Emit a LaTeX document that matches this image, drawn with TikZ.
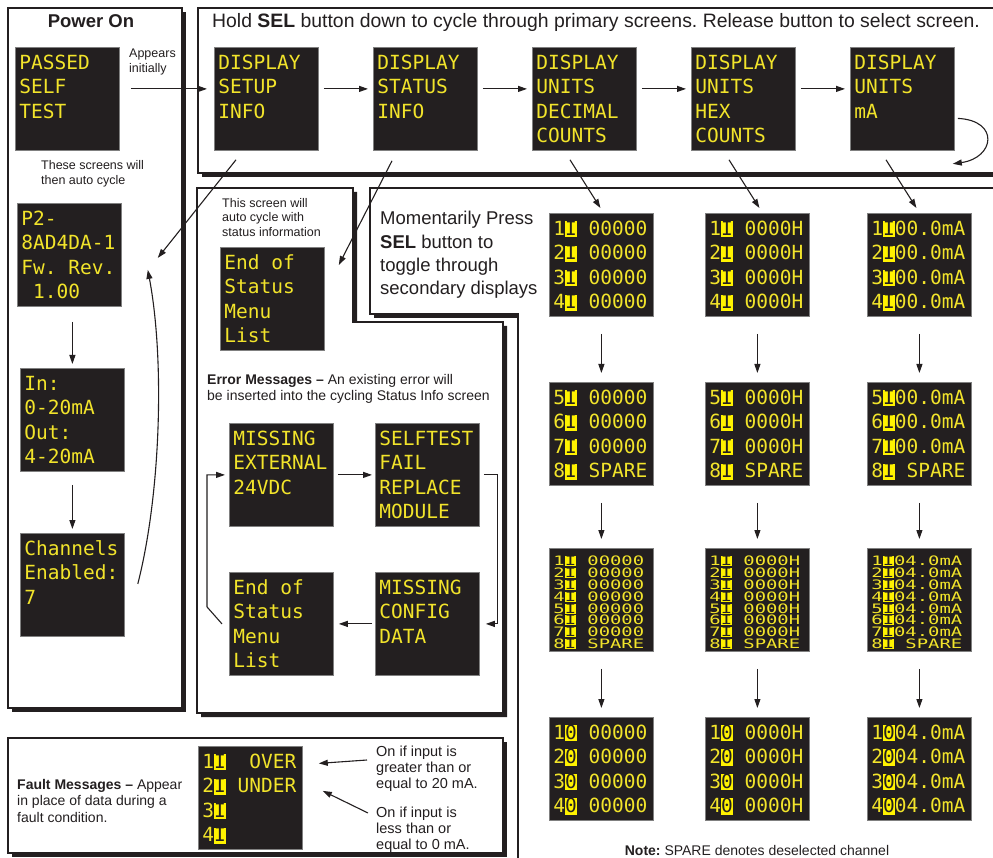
\documentclass[tikz,border=0pt]{standalone}
\usepackage{fontspec}
\setmainfont{Liberation Sans}
\newfontfamily\lcdfont{DejaVu Sans Mono}
\newfontfamily\lcdsmall[FakeStretch=1.45]{DejaVu Sans Mono}
\usepackage{xcolor}
\usepackage{tikz}
\usetikzlibrary{arrows.meta}
\frenchspacing

\definecolor{ink}{HTML}{231F20}
\definecolor{lcdbg}{HTML}{231F20}
\definecolor{lcdtext}{HTML}{F2E42B}
\definecolor{lcdhl}{HTML}{FFF200}

\newcommand\scrn[1]{\parbox[t][93pt][t]{96pt}{\raggedright\frenchspacing\rule{0pt}{17pt}#1}}
\newcommand\scrs[1]{\parbox[t][93pt][t]{96pt}{\raggedright\frenchspacing\rule{0pt}{12pt}#1}}
\newcommand\hl[1]{{\fboxsep=0pt\colorbox{lcdhl}{\textcolor{lcdbg}{\rule[-2pt]{0pt}{16pt}#1}}}}
\newcommand\hls[1]{{\fboxsep=0pt\colorbox{lcdhl}{\textcolor{lcdbg}{\rule[-0.5pt]{0pt}{10pt}#1}}}}

\tikzset{
  scr/.style={draw=black!50, line width=0.8pt, fill=lcdbg, text=lcdtext, inner xsep=4pt, inner ysep=5pt, anchor=north west, font=\lcdfont\fontsize{19.5}{24.5}\selectfont},
  scrsmall/.style={scr, font=\lcdsmall\fontsize{13}{11.9}\selectfont},
  panel/.style={draw=ink, line width=1.2pt, fill=white},
  drop/.style={fill=ink},
  arr/.style={-{Triangle[length=9pt,width=6pt]}, line width=1.1pt, draw=ink},
  txt/.style={inner sep=0pt, anchor=north west, align=left, text=ink}
}

\begin{document}
\begin{tikzpicture}[x=1pt,y=-1pt]
\useasboundingbox (0,0) rectangle (993,858);

\fill[drop] (12,12) rectangle (186,712);
\draw[panel] (8,8) rectangle (182,708);
\fill[drop] (202,12) rectangle (1010,177);
\draw[panel] (198,8) rectangle (1006,173);
\fill[drop] (374,192) -- (1010,192) -- (1010,870) -- (522,870) -- (522,318) -- (374,318) -- cycle;
\draw[panel] (370,188) -- (1006,188) -- (1006,866) -- (518,866) -- (518,314) -- (370,314) -- cycle;
\fill[drop] (201,192) -- (357,192) -- (357,326) -- (507,326) -- (507,717) -- (201,717) -- cycle;
\draw[panel] (197,188) -- (353,188) -- (353,322) -- (503,322) -- (503,713) -- (197,713) -- cycle;
\fill[drop] (12,742) rectangle (507,857);
\draw[panel] (8,738) rectangle (503,853);

\node[font=\bfseries\fontsize{18.5}{20}\selectfont, text=ink] (poweron) at (91,21.5) {Power On};
\node[txt, anchor=base west, font=\fontsize{19.4}{22}\selectfont] (hold) at (212,28) {Hold \textbf{SEL} button down to cycle through primary screens. Release button to select screen.};
\node[txt, font=\fontsize{12.5}{15}\selectfont] (appears) at (129,49) {Appears\\initially};
\node[txt, font=\fontsize{12.5}{15}\selectfont] (autocycle) at (41,160) {These screens will\\then auto cycle};
\node[txt, font=\fontsize{12.5}{14.5}\selectfont] (statuscycle) at (222,198) {This screen will\\auto cycle with\\status information};
\node[txt, font=\fontsize{18.5}{23.4}\selectfont] (press) at (380,211) {Momentarily Press\\\textbf{SEL} button to\\toggle through\\secondary displays};
\node[txt, font=\fontsize{14}{16.2}\selectfont] (errors) at (207,374) {\textbf{Error Messages --} An existing error will\\be inserted into the cycling Status Info screen};
\node[txt, font=\fontsize{14}{16.5}\selectfont] (faults) at (17,779) {\textbf{Fault Messages --} Appear\\in place of data during a\\fault condition.};
\node[txt, font=\fontsize{14.5}{16}\selectfont] (over) at (376,746) {On if input is\\greater than or\\equal to 20 mA.};
\node[txt, font=\fontsize{14.5}{16}\selectfont] (under) at (376,807) {On if input is\\less than or\\equal to 0 mA.};
\node[font=\fontsize{14}{16}\selectfont, text=ink] (note) at (757,850) {\textbf{Note:} SPARE denotes deselected channel};

\node[scr] (passed) at (15,47) {\scrn{PASSED\\SELF\\TEST}};
\node[scr] (p2) at (17,203) {\scrn{P2-\\8AD4DA-1\\Fw.~Rev.\\~1.00}};
\node[scr] (inout) at (20,368) {\scrn{In:\\0-20mA\\Out:\\4-20mA}};
\node[scr] (chan) at (20,533) {\scrn{Channels\\Enabled:\\7}};
\node[scr] (setup) at (214,47) {\scrn{DISPLAY\\SETUP\\INFO}};
\node[scr] (status) at (373,47) {\scrn{DISPLAY\\STATUS\\INFO}};
\node[scr] (decimal) at (532,47) {\scrn{DISPLAY\\UNITS\\DECIMAL\\COUNTS}};
\node[scr] (hex) at (691,47) {\scrn{DISPLAY\\UNITS\\HEX\\COUNTS}};
\node[scr] (ma) at (850,47) {\scrn{DISPLAY\\UNITS\\mA}};
\node[scr] (endtop) at (220,247) {\scrn{End of\\Status\\Menu\\List}};
\node[scr] (missext) at (229,423) {\scrn{MISSING\\EXTERNAL\\24VDC}};
\node[scr] (selftest) at (375,423) {\scrn{SELFTEST\\FAIL\\REPLACE\\MODULE}};
\node[scr] (endbot) at (229,572) {\scrn{End of\\Status\\Menu\\List}};
\node[scr] (config) at (375,572) {\scrn{MISSING\\CONFIG\\DATA}};
\node[scr] (fault) at (198,746) {\scrn{1\hl{I}~~OVER\\2\hl{I}~UNDER\\3\hl{I}\\4\hl{I}}};

\node[scr] (d1) at (549,213) {\scrn{1\hl{I} 00000\\2\hl{I} 00000\\3\hl{I} 00000\\4\hl{I} 00000}};
\node[scr] (d2) at (549,382) {\scrn{5\hl{I} 00000\\6\hl{I} 00000\\7\hl{I} 00000\\8\hl{I} SPARE}};
\node[scrsmall] (d3) at (549,548) {\scrs{1\hls{I} 00000\\2\hls{I} 00000\\3\hls{I} 00000\\4\hls{I} 00000\\5\hls{I} 00000\\6\hls{I} 00000\\7\hls{I} 00000\\8\hls{I} SPARE}};
\node[scr] (d4) at (549,717) {\scrn{1\hl{0} 00000\\2\hl{0} 00000\\3\hl{0} 00000\\4\hl{0} 00000}};
\node[scr] (h1) at (705,213) {\scrn{1\hl{I} 0000H\\2\hl{I} 0000H\\3\hl{I} 0000H\\4\hl{I} 0000H}};
\node[scr] (h2) at (705,382) {\scrn{5\hl{I} 0000H\\6\hl{I} 0000H\\7\hl{I} 0000H\\8\hl{I} SPARE}};
\node[scrsmall] (h3) at (705,548) {\scrs{1\hls{I} 0000H\\2\hls{I} 0000H\\3\hls{I} 0000H\\4\hls{I} 0000H\\5\hls{I} 0000H\\6\hls{I} 0000H\\7\hls{I} 0000H\\8\hls{I} SPARE}};
\node[scr] (h4) at (705,717) {\scrn{1\hl{0} 0000H\\2\hl{0} 0000H\\3\hl{0} 0000H\\4\hl{0} 0000H}};
\node[scr] (m1) at (867,213) {\scrn{1\hl{I}00.0mA\\2\hl{I}00.0mA\\3\hl{I}00.0mA\\4\hl{I}00.0mA}};
\node[scr] (m2) at (867,382) {\scrn{5\hl{I}00.0mA\\6\hl{I}00.0mA\\7\hl{I}00.0mA\\8\hl{I} SPARE}};
\node[scrsmall] (m3) at (867,548) {\scrs{1\hls{I}04.0mA\\2\hls{I}04.0mA\\3\hls{I}04.0mA\\4\hls{I}04.0mA\\5\hls{I}04.0mA\\6\hls{I}04.0mA\\7\hls{I}04.0mA\\8\hls{I} SPARE}};
\node[scr] (m4) at (867,717) {\scrn{1\hl{0}04.0mA\\2\hl{0}04.0mA\\3\hl{0}04.0mA\\4\hl{0}04.0mA}};

\draw[arr, shorten <=11pt, shorten >=7pt] ([yshift=10pt]passed.east) -- ([yshift=10pt]setup.west);
\draw[arr, shorten <=5pt, shorten >=5pt] ([yshift=10pt]setup.east) -- ([yshift=10pt]status.west);
\draw[arr, shorten <=5pt, shorten >=5pt] ([yshift=10pt]status.east) -- ([yshift=10pt]decimal.west);
\draw[arr, shorten <=5pt, shorten >=5pt] ([yshift=10pt]decimal.east) -- ([yshift=10pt]hex.west);
\draw[arr, shorten <=5pt, shorten >=5pt] ([yshift=10pt]hex.east) -- ([yshift=10pt]ma.west);
\draw[arr] ([shift={(3,19.5)}]ma.east) .. controls +(42,2) and +(42,-6) .. ([shift={(-2,13)}]ma.south east);

\draw[arr] ([shift={(22,9)}]setup.south west) -- ([shift={(36,3)}]p2.east);
\draw[arr] ([shift={(19,10)}]status.south west) -- ([shift={(14,18)}]endtop.north east);
\draw[arr] ([shift={(38,9)}]decimal.south west) -- ([shift={(-1,-5)}]d1.north);
\draw[arr] ([shift={(38,9)}]hex.south west) -- ([shift={(2,-5)}]h1.north);
\draw[arr] ([shift={(36,9)}]ma.south west) -- ([shift={(-3,-5)}]m1.north);

\draw[arr, shorten <=17pt, shorten >=9pt] (d1.south) -- (d2.north);
\draw[arr, shorten <=17pt, shorten >=9pt] (d2.south) -- (d3.north);
\draw[arr, shorten <=17pt, shorten >=9pt] (d3.south) -- (d4.north);
\draw[arr, shorten <=17pt, shorten >=9pt] (h1.south) -- (h2.north);
\draw[arr, shorten <=17pt, shorten >=9pt] (h2.south) -- (h3.north);
\draw[arr, shorten <=17pt, shorten >=9pt] (h3.south) -- (h4.north);
\draw[arr, shorten <=17pt, shorten >=9pt] (m1.south) -- (m2.north);
\draw[arr, shorten <=17pt, shorten >=9pt] (m2.south) -- (m3.north);
\draw[arr, shorten <=17pt, shorten >=9pt] (m3.south) -- (m4.north);

\draw[arr, shorten <=15pt, shorten >=4pt] (inout.north |- p2.south) -- (inout.north);
\draw[arr, shorten <=13pt, shorten >=4pt] (inout.south) -- (chan.north);
\draw[arr] ([shift={(13,-1)}]chan.east) .. controls +(23,-90) and +(17,90) .. ([shift={(26,15)}]p2.east);

\draw[arr, shorten <=4pt, shorten >=3pt] (missext) -- (selftest);
\draw[arr] ([xshift=4pt]selftest.east) -- ++(14,0) |- ([xshift=6pt]config.east);
\draw[arr, shorten <=3pt, shorten >=5pt] (config) -- (endbot);
\draw[arr] ([xshift=-7pt]endbot.west) -- ++(-15,-17) |- ([xshift=-4pt]missext.west);

\draw[arr] ([shift={(-9,14)}]over.north west) -- ([shift={(16,-34.5)}]fault.east);
\draw[arr] ([shift={(-8,6)}]under.north west) -- ([shift={(20,-7)}]fault.east);
\end{tikzpicture}
\end{document}
